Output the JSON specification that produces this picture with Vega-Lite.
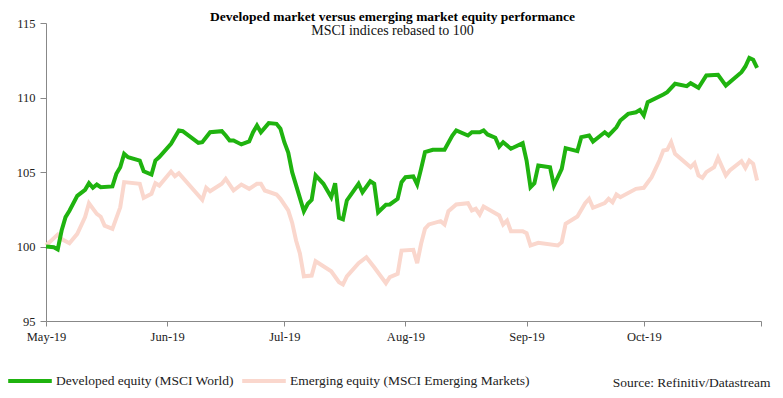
{
  "$schema": "https://vega.github.io/schema/vega-lite/v6.json",
  "autosize": {"type": "none"},
  "width": 715,
  "height": 298,
  "padding": {"left": 46, "top": 23, "right": 22, "bottom": 77},
  "background": "white",
  "config": {
    "view": {"stroke": null},
    "font": "Liberation Serif",
    "axis": {"labelFont": "Liberation Serif", "labelFontSize": 12.5, "labelColor": "#222", "domainColor": "#888", "tickColor": "#888", "grid": false},
    "legend": {"labelFont": "Liberation Serif", "labelFontSize": 13.5, "labelColor": "#222", "labelLimit": 0}
  },
  "title": {
    "text": "Developed market versus emerging market equity performance",
    "subtitle": "MSCI indices rebased to 100",
    "anchor": "middle",
    "dx": -11,
    "offset": -21,
    "font": "Liberation Serif",
    "fontSize": 13.5,
    "fontWeight": "bold",
    "color": "#000",
    "subtitleFont": "Liberation Serif",
    "subtitleFontSize": 14,
    "subtitleColor": "#111",
    "subtitlePadding": 1
  },
  "datasets": {
    "dev": [
      {"date": "2019-05-01", "value": 100.0},
      {"date": "2019-05-03", "value": 99.95},
      {"date": "2019-05-04", "value": 99.8},
      {"date": "2019-05-05", "value": 101.07},
      {"date": "2019-05-06", "value": 101.97},
      {"date": "2019-05-07", "value": 102.4},
      {"date": "2019-05-09", "value": 103.4},
      {"date": "2019-05-11", "value": 103.8},
      {"date": "2019-05-12", "value": 104.25},
      {"date": "2019-05-13", "value": 103.94},
      {"date": "2019-05-14", "value": 104.16},
      {"date": "2019-05-15", "value": 103.98},
      {"date": "2019-05-18", "value": 104.03},
      {"date": "2019-05-19", "value": 104.88},
      {"date": "2019-05-20", "value": 105.32},
      {"date": "2019-05-21", "value": 106.22},
      {"date": "2019-05-22", "value": 105.99},
      {"date": "2019-05-25", "value": 105.77},
      {"date": "2019-05-26", "value": 105.05},
      {"date": "2019-05-28", "value": 104.83},
      {"date": "2019-05-29", "value": 105.77},
      {"date": "2019-05-30", "value": 106.0},
      {"date": "2019-06-02", "value": 106.89},
      {"date": "2019-06-04", "value": 107.79},
      {"date": "2019-06-05", "value": 107.74},
      {"date": "2019-06-09", "value": 106.96},
      {"date": "2019-06-10", "value": 107.0},
      {"date": "2019-06-12", "value": 107.67},
      {"date": "2019-06-15", "value": 107.74},
      {"date": "2019-06-16", "value": 107.45},
      {"date": "2019-06-17", "value": 107.11},
      {"date": "2019-06-18", "value": 107.11},
      {"date": "2019-06-20", "value": 106.85},
      {"date": "2019-06-22", "value": 107.05},
      {"date": "2019-06-23", "value": 107.67},
      {"date": "2019-06-24", "value": 108.12},
      {"date": "2019-06-25", "value": 107.67},
      {"date": "2019-06-27", "value": 108.28},
      {"date": "2019-06-29", "value": 108.23},
      {"date": "2019-06-30", "value": 107.9},
      {"date": "2019-07-01", "value": 107.0},
      {"date": "2019-07-02", "value": 106.3},
      {"date": "2019-07-03", "value": 104.99},
      {"date": "2019-07-06", "value": 102.37},
      {"date": "2019-07-07", "value": 102.87},
      {"date": "2019-07-08", "value": 103.13},
      {"date": "2019-07-09", "value": 104.77},
      {"date": "2019-07-11", "value": 104.21},
      {"date": "2019-07-13", "value": 103.31},
      {"date": "2019-07-14", "value": 104.25},
      {"date": "2019-07-15", "value": 101.93},
      {"date": "2019-07-16", "value": 101.83},
      {"date": "2019-07-17", "value": 103.09},
      {"date": "2019-07-20", "value": 104.21},
      {"date": "2019-07-21", "value": 103.64},
      {"date": "2019-07-23", "value": 104.38},
      {"date": "2019-07-24", "value": 104.21},
      {"date": "2019-07-25", "value": 102.3},
      {"date": "2019-07-27", "value": 102.8},
      {"date": "2019-07-28", "value": 102.82},
      {"date": "2019-07-30", "value": 103.2},
      {"date": "2019-07-31", "value": 104.32},
      {"date": "2019-08-01", "value": 104.65},
      {"date": "2019-08-03", "value": 104.7},
      {"date": "2019-08-04", "value": 104.16},
      {"date": "2019-08-05", "value": 105.21},
      {"date": "2019-08-06", "value": 106.33},
      {"date": "2019-08-08", "value": 106.49},
      {"date": "2019-08-11", "value": 106.49},
      {"date": "2019-08-13", "value": 107.45},
      {"date": "2019-08-14", "value": 107.79},
      {"date": "2019-08-17", "value": 107.45},
      {"date": "2019-08-18", "value": 107.67},
      {"date": "2019-08-20", "value": 107.67},
      {"date": "2019-08-21", "value": 107.79},
      {"date": "2019-08-22", "value": 107.52},
      {"date": "2019-08-24", "value": 107.3},
      {"date": "2019-08-25", "value": 106.71},
      {"date": "2019-08-26", "value": 107.0},
      {"date": "2019-08-28", "value": 106.56},
      {"date": "2019-08-31", "value": 106.93},
      {"date": "2019-09-01", "value": 105.77},
      {"date": "2019-09-02", "value": 103.98},
      {"date": "2019-09-03", "value": 104.25},
      {"date": "2019-09-04", "value": 105.44},
      {"date": "2019-09-07", "value": 105.32},
      {"date": "2019-09-08", "value": 104.09},
      {"date": "2019-09-10", "value": 105.21},
      {"date": "2019-09-11", "value": 106.6},
      {"date": "2019-09-14", "value": 106.4},
      {"date": "2019-09-15", "value": 107.34},
      {"date": "2019-09-17", "value": 107.45},
      {"date": "2019-09-18", "value": 107.05},
      {"date": "2019-09-21", "value": 107.67},
      {"date": "2019-09-22", "value": 107.45},
      {"date": "2019-09-24", "value": 108.0},
      {"date": "2019-09-25", "value": 108.46},
      {"date": "2019-09-27", "value": 108.9},
      {"date": "2019-09-29", "value": 109.01},
      {"date": "2019-09-30", "value": 109.17},
      {"date": "2019-10-01", "value": 108.79},
      {"date": "2019-10-02", "value": 109.68},
      {"date": "2019-10-06", "value": 110.2},
      {"date": "2019-10-07", "value": 110.36},
      {"date": "2019-10-09", "value": 110.92},
      {"date": "2019-10-12", "value": 110.76},
      {"date": "2019-10-13", "value": 110.96},
      {"date": "2019-10-15", "value": 110.65},
      {"date": "2019-10-17", "value": 111.48},
      {"date": "2019-10-20", "value": 111.52},
      {"date": "2019-10-22", "value": 110.8},
      {"date": "2019-10-26", "value": 111.7},
      {"date": "2019-10-27", "value": 112.08},
      {"date": "2019-10-28", "value": 112.66},
      {"date": "2019-10-29", "value": 112.53},
      {"date": "2019-10-30", "value": 111.99}
    ],
    "em": [
      {"date": "2019-05-01", "value": 100.07},
      {"date": "2019-05-04", "value": 100.8},
      {"date": "2019-05-05", "value": 100.5},
      {"date": "2019-05-07", "value": 100.22},
      {"date": "2019-05-09", "value": 100.85},
      {"date": "2019-05-11", "value": 101.97},
      {"date": "2019-05-12", "value": 102.9},
      {"date": "2019-05-14", "value": 102.19},
      {"date": "2019-05-15", "value": 102.0},
      {"date": "2019-05-16", "value": 101.4},
      {"date": "2019-05-18", "value": 101.18},
      {"date": "2019-05-20", "value": 102.63},
      {"date": "2019-05-21", "value": 104.32},
      {"date": "2019-05-25", "value": 104.21},
      {"date": "2019-05-26", "value": 103.27},
      {"date": "2019-05-28", "value": 103.54},
      {"date": "2019-05-29", "value": 104.25},
      {"date": "2019-05-30", "value": 104.09},
      {"date": "2019-06-02", "value": 105.03},
      {"date": "2019-06-03", "value": 104.72},
      {"date": "2019-06-04", "value": 104.92},
      {"date": "2019-06-10", "value": 103.13},
      {"date": "2019-06-11", "value": 103.94},
      {"date": "2019-06-12", "value": 103.71},
      {"date": "2019-06-15", "value": 104.21},
      {"date": "2019-06-16", "value": 104.54},
      {"date": "2019-06-18", "value": 103.76},
      {"date": "2019-06-20", "value": 104.16},
      {"date": "2019-06-22", "value": 103.87},
      {"date": "2019-06-24", "value": 104.21},
      {"date": "2019-06-25", "value": 104.21},
      {"date": "2019-06-26", "value": 103.76},
      {"date": "2019-06-29", "value": 103.49},
      {"date": "2019-06-30", "value": 103.2},
      {"date": "2019-07-02", "value": 102.42},
      {"date": "2019-07-03", "value": 101.6},
      {"date": "2019-07-04", "value": 100.4},
      {"date": "2019-07-05", "value": 99.51},
      {"date": "2019-07-06", "value": 98.0},
      {"date": "2019-07-08", "value": 98.05},
      {"date": "2019-07-09", "value": 99.01},
      {"date": "2019-07-13", "value": 98.34},
      {"date": "2019-07-15", "value": 97.6},
      {"date": "2019-07-16", "value": 97.45},
      {"date": "2019-07-17", "value": 98.0},
      {"date": "2019-07-20", "value": 98.88},
      {"date": "2019-07-22", "value": 99.28},
      {"date": "2019-07-24", "value": 98.61},
      {"date": "2019-07-27", "value": 97.54},
      {"date": "2019-07-28", "value": 97.94},
      {"date": "2019-07-30", "value": 98.17},
      {"date": "2019-07-31", "value": 99.73},
      {"date": "2019-08-03", "value": 99.78},
      {"date": "2019-08-04", "value": 98.88},
      {"date": "2019-08-05", "value": 100.18},
      {"date": "2019-08-06", "value": 101.19},
      {"date": "2019-08-07", "value": 101.48},
      {"date": "2019-08-10", "value": 101.7},
      {"date": "2019-08-11", "value": 101.48},
      {"date": "2019-08-12", "value": 102.37},
      {"date": "2019-08-14", "value": 102.82},
      {"date": "2019-08-17", "value": 102.91},
      {"date": "2019-08-18", "value": 102.42},
      {"date": "2019-08-19", "value": 102.53},
      {"date": "2019-08-20", "value": 102.15},
      {"date": "2019-08-21", "value": 102.68},
      {"date": "2019-08-25", "value": 102.08},
      {"date": "2019-08-26", "value": 101.48},
      {"date": "2019-08-27", "value": 101.74},
      {"date": "2019-08-28", "value": 101.03},
      {"date": "2019-08-31", "value": 101.03},
      {"date": "2019-09-01", "value": 100.89},
      {"date": "2019-09-02", "value": 100.07},
      {"date": "2019-09-04", "value": 100.25},
      {"date": "2019-09-09", "value": 100.07},
      {"date": "2019-09-10", "value": 100.29},
      {"date": "2019-09-11", "value": 101.52},
      {"date": "2019-09-14", "value": 102.01},
      {"date": "2019-09-16", "value": 102.91},
      {"date": "2019-09-17", "value": 103.2},
      {"date": "2019-09-18", "value": 102.6},
      {"date": "2019-09-21", "value": 102.91},
      {"date": "2019-09-22", "value": 103.2},
      {"date": "2019-09-23", "value": 102.97},
      {"date": "2019-09-24", "value": 103.49},
      {"date": "2019-09-25", "value": 103.31},
      {"date": "2019-09-29", "value": 103.87},
      {"date": "2019-10-01", "value": 103.94},
      {"date": "2019-10-03", "value": 104.65},
      {"date": "2019-10-05", "value": 105.77},
      {"date": "2019-10-06", "value": 106.44},
      {"date": "2019-10-07", "value": 106.49},
      {"date": "2019-10-08", "value": 107.0},
      {"date": "2019-10-09", "value": 106.22},
      {"date": "2019-10-13", "value": 105.32},
      {"date": "2019-10-14", "value": 105.59},
      {"date": "2019-10-15", "value": 104.77},
      {"date": "2019-10-16", "value": 104.61},
      {"date": "2019-10-17", "value": 104.99},
      {"date": "2019-10-19", "value": 105.32},
      {"date": "2019-10-20", "value": 105.95},
      {"date": "2019-10-22", "value": 104.77},
      {"date": "2019-10-23", "value": 105.1},
      {"date": "2019-10-26", "value": 105.72},
      {"date": "2019-10-27", "value": 105.28},
      {"date": "2019-10-28", "value": 105.77},
      {"date": "2019-10-29", "value": 105.55},
      {"date": "2019-10-30", "value": 104.43}
    ]
  },
  "encoding": {
    "x": {
      "field": "date",
      "type": "temporal",
      "scale": {"type": "utc", "domain": [{"year": 2019, "month": 5, "date": 1, "utc": true}, {"year": 2019, "month": 10, "date": 31, "utc": true}]},
      "axis": {
        "values": [
          {"year": 2019, "month": 5, "date": 1, "utc": true},
          {"year": 2019, "month": 6, "date": 1, "utc": true},
          {"year": 2019, "month": 7, "date": 1, "utc": true},
          {"year": 2019, "month": 8, "date": 1, "utc": true},
          {"year": 2019, "month": 9, "date": 1, "utc": true},
          {"year": 2019, "month": 10, "date": 1, "utc": true},
          {"year": 2019, "month": 10, "date": 31, "utc": true}
        ],
        "labelExpr": "utcdate(datum.value) == 31 ? '' : utcFormat(datum.value, '%b-%y')",
        "tickSize": 5,
        "labelPadding": 4,
        "labelFlush": false,
        "title": "Source: Refinitiv/Datastream",
        "titleFont": "Liberation Serif",
        "titleFontSize": 13.5,
        "titleFontWeight": "normal",
        "titleColor": "#222",
        "titleAnchor": "end",
        "titleAlign": "right",
        "titleBaseline": "middle",
        "titleX": 724,
        "titleY": 61
      }
    },
    "y": {
      "field": "value",
      "type": "quantitative",
      "scale": {"domain": [95, 115], "zero": false},
      "axis": {"values": [95, 100, 105, 110, 115], "tickSize": 6, "labelPadding": 5, "title": null}
    },
    "color": {
      "scale": {
        "domain": ["Developed equity (MSCI World)", "Emerging equity (MSCI Emerging Markets)"],
        "range": ["#1FB30F", "#FAD7CD"]
      },
      "legend": {
        "title": null,
        "orient": "none",
        "direction": "horizontal",
        "legendX": -40,
        "legendY": 334,
        "symbolType": "stroke",
        "symbolStrokeWidth": 4,
        "symbolSize": 1900,
        "labelOffset": 2,
        "columnPadding": 0
      }
    }
  },
  "layer": [
    {
      "data": {"name": "em"},
      "mark": {"type": "line", "strokeWidth": 4},
      "encoding": {"color": {"datum": "Emerging equity (MSCI Emerging Markets)"}}
    },
    {
      "data": {"name": "dev"},
      "mark": {"type": "line", "strokeWidth": 4},
      "encoding": {"color": {"datum": "Developed equity (MSCI World)"}}
    }
  ]
}
